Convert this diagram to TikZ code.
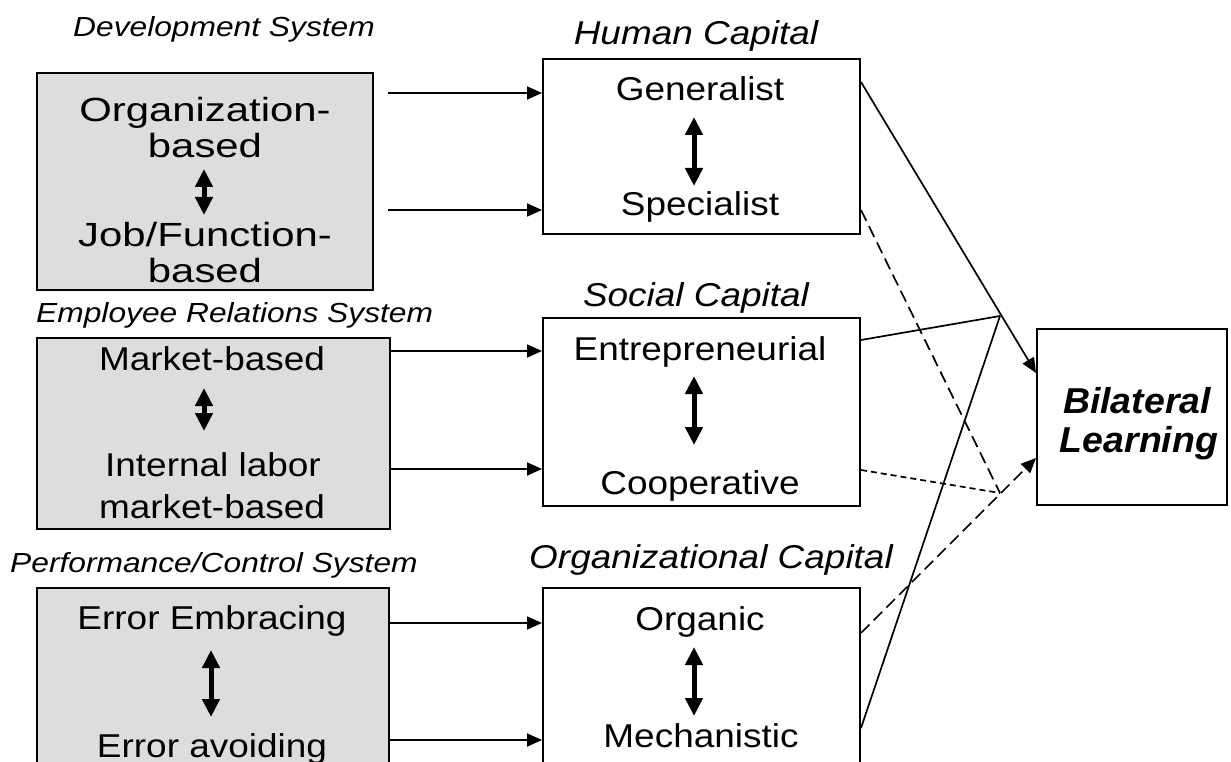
\documentclass[tikz,border=0pt]{standalone}
\usepackage{fontspec}
\setmainfont{Liberation Sans}
\usetikzlibrary{arrows.meta}
\definecolor{boxgray}{RGB}{221,221,221}
\newcommand{\wx}[1]{\scalebox{1.12}[1]{#1}}
\newcommand{\tx}[1]{\scalebox{1.15}[1]{#1}}
\newcommand{\bx}[1]{\scalebox{1.04}[1]{#1}}
\newcommand{\ux}[1]{\scalebox{1.25}[1]{#1}}
\begin{document}
\begin{tikzpicture}[x=1pt,y=-1pt,
  leftbox/.style={draw, line width=2pt, fill=boxgray, inner sep=0pt, anchor=north west},
  midbox/.style={draw, line width=2pt, fill=white, inner sep=0pt, anchor=north west},
  body/.style={inner sep=0pt, anchor=base, font=\fontsize{33}{40}\selectfont},
  bigbody/.style={inner sep=0pt, anchor=base, font=\fontsize{33.5}{40}\selectfont},
  ltitle/.style={inner sep=0pt, anchor=base west, font=\fontsize{27.6}{33}\selectfont\itshape},
  mtitle/.style={inner sep=0pt, anchor=base, font=\fontsize{33}{40}\selectfont\itshape},
  btext/.style={inner sep=0pt, anchor=base, font=\fontsize{36}{43}\selectfont\bfseries\itshape},
  arr/.style={line width=1.7pt, -{Triangle[length=15pt,width=13pt]}},
  conn/.style={line width=1.7pt},
  longdash/.style={dash pattern=on 12pt off 6pt},
  shortdash/.style={dash pattern=on 6pt off 4pt},
  dbl/.style={line width=5pt, {Triangle[length=18pt,width=17pt]}-{Triangle[length=18pt,width=17pt]}}
]
\useasboundingbox (0,0) rectangle (1231,762);
\clip (0,0) rectangle (1231,762);

% ---------- left boxes ----------
\node[leftbox, minimum width=336pt, minimum height=217pt] (L1) at (36,72) {};
\node[leftbox, minimum width=353pt, minimum height=191pt] (L2) at (36,337) {};
\node[leftbox, minimum width=352pt, minimum height=190pt] (L3) at (36,587) {};

\node[ltitle] (T1) at (73,37) {\tx{Development System}};
\node[ltitle] (T2) at (36,322) {\tx{Employee Relations System}};
\node[ltitle] (T3) at (10,572) {\tx{Performance/Control System}};

\node[bigbody] (l1a) at (205,122) {\ux{Organization-}};
\node[bigbody] (l1b) at (205,158) {\ux{based}};
\node[bigbody] (l1c) at (205,246) {\ux{Job/Function-}};
\node[bigbody] (l1d) at (205,282) {\ux{based}};

\node[body] (l2a) at (212,370) {\wx{Market-based}};
\node[body] (l2b) at (213,476) {\wx{Internal labor}};
\node[body] (l2c) at (212,518) {\wx{market-based}};

\node[body] (l3a) at (212,629) {\wx{Error Embracing}};
\node[body] (l3b) at (212,757) {\wx{Error avoiding}};

\coordinate (d1a) at (204,169); \coordinate (d1b) at (204,215);
\coordinate (d2a) at (204,388); \coordinate (d2b) at (204,431);
\coordinate (d3a) at (211,650); \coordinate (d3b) at (211,717);
\draw[dbl] (d1a) -- (d1b);
\draw[dbl] (d2a) -- (d2b);
\draw[dbl] (d3a) -- (d3b);

% ---------- middle boxes ----------
\node[midbox, minimum width=317pt, minimum height=175pt] (M1) at (542,58) {};
\node[midbox, minimum width=317pt, minimum height=188pt] (M2) at (542,317) {};
\node[midbox, minimum width=317pt, minimum height=190pt] (M3) at (542,587) {};

\node[mtitle] (H1) at (696,45) {\wx{Human Capital}};
\node[mtitle] (H2) at (696,306) {\wx{Social Capital}};
\node[mtitle, anchor=base west] (H3) at (529,568) {\wx{Organizational Capital}};

\node[body] (m1a) at (700,101) {\wx{Generalist}};
\node[body] (m1b) at (700,215) {\wx{Specialist}};
\node[body] (m2a) at (700,360) {\wx{Entrepreneurial}};
\begin{scope}
\clip (542,317) rectangle (859,504);
\node[body] (m2b) at (700,494) {\wx{Cooperative}};
\end{scope}
\node[body] (m3a) at (700,630) {\wx{Organic}};
\node[body] (m3b) at (701,747) {\wx{Mechanistic}};

\coordinate (e1a) at (694,117); \coordinate (e1b) at (694,186);
\coordinate (e2a) at (694,376); \coordinate (e2b) at (694,445);
\coordinate (e3a) at (694,647); \coordinate (e3b) at (694,716);
\draw[dbl] (e1a) -- (e1b);
\draw[dbl] (e2a) -- (e2b);
\draw[dbl] (e3a) -- (e3b);

% ---------- bilateral learning ----------
\node[midbox, minimum width=190pt, minimum height=176pt] (B) at (1036,328) {};
\node[btext] (b1) at (1137,413) {\bx{Bilateral}};
\node[btext] (b2) at (1139,452) {\bx{Learning}};

% ---------- horizontal arrows ----------
\coordinate (h1) at (388,93);
\coordinate (h2) at (388,210);
\coordinate (h3) at (L2.east |- 0,351);
\coordinate (h4) at (L2.east |- 0,469);
\coordinate (h5) at (L3.east |- 0,623);
\coordinate (h6) at (L3.east |- 0,740);
\draw[arr] (h1) -- (h1 -| M1.west);
\draw[arr] (h2) -- (h2 -| M1.west);
\draw[arr] (h3) -- (h3 -| M2.west);
\draw[arr] (h4) -- (h4 -| M2.west);
\draw[arr] (h5) -- (h5 -| M3.west);
\draw[arr] (h6) -- (h6 -| M3.west);

% ---------- diagonal connectors ----------
\coordinate (g1) at (M1.east |- 0,82);
\coordinate (g2) at (M1.east |- 0,210);
\coordinate (g3) at (M2.east |- 0,340);
\coordinate (g4) at (M2.east |- 0,470);
\coordinate (g5) at (M3.east |- 0,633);
\coordinate (g6) at (M3.east |- 0,728);
\coordinate (J1) at (1000,316);
\coordinate (J2) at (1000,493);
\coordinate (t1) at (B.west |- 0,373);
\coordinate (t2) at (B.west |- 0,458);

\draw[arr] (g1) -- (t1);
\draw[conn] (g3) -- (J1);
\draw[conn] (g6) -- (J1);
\draw[conn, longdash] (g2) -- (J2);
\draw[conn, shortdash] (g4) -- (J2);
\draw[arr, longdash] (g5) -- (t2);
\end{tikzpicture}
\end{document}
